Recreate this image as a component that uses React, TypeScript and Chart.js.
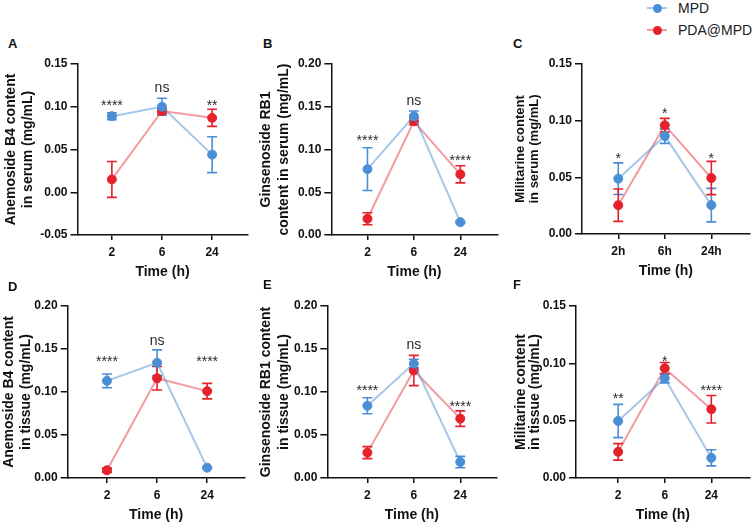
import React, { useEffect, useRef } from "react";
import { Chart, registerables } from "chart.js";

Chart.register(...registerables);

const FONT = "'Liberation Sans', Arial, Helvetica, sans-serif";
const BLUE = "#4a8fd6";
const BLUE_LINE = "rgba(74,143,214,0.5)";
const RED = "#e5212b";
const RED_LINE = "rgba(229,33,43,0.45)";

// time points
const hours = ["2", "6", "24"];
const hoursH = ["2h", "6h", "24h"];

// A: Anemoside B4, serum
const aMpd = [0.089, 0.1, 0.044];
const aMpdSd = [0.004, 0.01, 0.021];
const aPda = [0.015, 0.095, 0.087];
const aPdaSd = [0.021, 0.003, 0.01];
const aSig = ["****", "ns", "**"];
const aSigY = [0.104, 0.122, 0.104];
const aTicks = [-0.05, 0, 0.05, 0.1, 0.15];

// B: Ginsenoside RB1, serum
const bMpd = [0.077, 0.139, 0.015];
const bMpdSd = [0.025, 0.006, 0.001];
const bPda = [0.019, 0.133, 0.071];
const bPdaSd = [0.007, 0.004, 0.01];
const bSig = ["****", "ns", "****"];
const bSigY = [0.113, 0.157, 0.09];
const bTicks = [0, 0.05, 0.1, 0.15, 0.2];

// C: Militarine, serum
const cMpd = [0.0488, 0.0864, 0.0255];
const cMpdSd = [0.014, 0.0064, 0.0148];
const cPda = [0.0254, 0.096, 0.0494];
const cPdaSd = [0.0143, 0.006, 0.0147];
const cSig = ["*", "*", "*"];
const cSigY = [0.069, 0.108, 0.069];
const cTicks = [0, 0.05, 0.1, 0.15];

// D: Anemoside B4, tissue
const dMpd = [0.113, 0.134, 0.012];
const dMpdSd = [0.008, 0.015, 0.001];
const dPda = [0.009, 0.116, 0.101];
const dPdaSd = [0.0025, 0.0137, 0.009];
const dSig = ["****", "ns", "****"];
const dSigY = [0.138, 0.159, 0.138];
const dTicks = [0, 0.05, 0.1, 0.15, 0.2];

// E: Ginsenoside RB1, tissue
const eMpd = [0.084, 0.133, 0.0186];
const eMpdSd = [0.0093, 0.005, 0.0066];
const ePda = [0.0295, 0.125, 0.069];
const ePdaSd = [0.007, 0.0176, 0.009];
const eSig = ["****", "ns", "****"];
const eSigY = [0.104, 0.155, 0.086];
const eTicks = [0, 0.05, 0.1, 0.15, 0.2];

// F: Militarine, tissue
const fMpd = [0.0497, 0.087, 0.0176];
const fMpdSd = [0.0145, 0.004, 0.007];
const fPda = [0.0228, 0.0957, 0.06];
const fPdaSd = [0.0072, 0.005, 0.012];
const fSig = ["**", "*", "****"];
const fSigY = [0.071, 0.104, 0.078];
const fTicks = [0, 0.05, 0.1, 0.15];

type Panel = {
  letter: string;
  cats: string[];
  mpd: number[];
  mpdSd: number[];
  pda: number[];
  pdaSd: number[];
  sig: string[];
  sigY: number[];
  ticks: number[];
  title: string[];
  // plot box on the page
  left: number;
  right: number;
  top: number;
  bottom: number;
  xMin: number;
  xMax: number;
  titleX: number;
  titleGap: number;
  titleSize: number;
  letterX: number;
  letterY: number;
};

const panels: Panel[] = [
  {
    letter: "A", cats: hours, mpd: aMpd, mpdSd: aMpdSd, pda: aPda, pdaSd: aPdaSd, sig: aSig, sigY: aSigY, ticks: aTicks,
    title: ["Anemoside B4 content", "in serum (mg/mL)"],
    left: 77, right: 250, top: 64, bottom: 235, xMin: -0.686, xMax: 2.706,
    titleX: 10.5, titleGap: 17, titleSize: 14, letterX: 8, letterY: 44,
  },
  {
    letter: "B", cats: hours, mpd: bMpd, mpdSd: bMpdSd, pda: bPda, pdaSd: bPdaSd, sig: bSig, sigY: bSigY, ticks: bTicks,
    title: ["Ginsenoside RB1", "content in serum (mg/mL)"],
    left: 331, right: 501, top: 64, bottom: 235, xMin: -0.779, xMax: 2.8,
    titleX: 265.7, titleGap: 18.6, titleSize: 14, letterX: 263, letterY: 44,
  },
  {
    letter: "C", cats: hoursH, mpd: cMpd, mpdSd: cMpdSd, pda: cPda, pdaSd: cPdaSd, sig: cSig, sigY: cSigY, ticks: cTicks,
    title: ["Militarine content", "in serum (mg/mL)"],
    left: 582, right: 753, top: 64, bottom: 234, xMin: -0.779, xMax: 2.82,
    titleX: 520, titleGap: 14, titleSize: 13, letterX: 513, letterY: 44,
  },
  {
    letter: "D", cats: hours, mpd: dMpd, mpdSd: dMpdSd, pda: dPda, pdaSd: dPdaSd, sig: dSig, sigY: dSigY, ticks: dTicks,
    title: ["Anemoside B4 content", "in tissue (mg/mL)"],
    left: 68, right: 248, top: 306, bottom: 478, xMin: -0.784, xMax: 2.745,
    titleX: 9.3, titleGap: 17, titleSize: 14, letterX: 8, letterY: 287,
  },
  {
    letter: "E", cats: hours, mpd: eMpd, mpdSd: eMpdSd, pda: ePda, pdaSd: ePdaSd, sig: eSig, sigY: eSigY, ticks: eTicks,
    title: ["Ginsenoside RB1 content", "in tissue (mg/mL)"],
    left: 327, right: 500, top: 306, bottom: 478, xMin: -0.863, xMax: 2.78,
    titleX: 265.7, titleGap: 18.6, titleSize: 14, letterX: 263, letterY: 285,
  },
  {
    letter: "F", cats: hours, mpd: fMpd, mpdSd: fMpdSd, pda: fPda, pdaSd: fPdaSd, sig: fSig, sigY: fSigY, ticks: fTicks,
    title: ["Militarine content", "in tissue (mg/mL)"],
    left: 576, right: 753, top: 306, bottom: 478, xMin: -0.905, xMax: 2.82,
    titleX: 521, titleGap: 14, titleSize: 14, letterX: 513, letterY: 285,
  },
];

const PAD_TOP = 12;
const PAD_RIGHT = 2;
const X_AXIS_H = 46;
const TITLE_MARGIN = 10;

// vertical SD bars with caps, drawn beneath the lines and markers
const errorBars = {
  id: "errorBars",
  beforeDatasetsDraw(chart: any) {
    const ctx = chart.ctx;
    const ys = chart.scales.y;
    chart.data.datasets.forEach((ds: any, di: number) => {
      const meta = chart.getDatasetMeta(di);
      meta.data.forEach((pt: any, i: number) => {
        const v = ds.data[i].y;
        const e = ds.err[i];
        const top = ys.getPixelForValue(v + e);
        const bot = ys.getPixelForValue(v - e);
        const x = pt.x;
        ctx.save();
        ctx.strokeStyle = ds.errColor;
        ctx.lineWidth = 1.6;
        ctx.beginPath();
        ctx.moveTo(x, top);
        ctx.lineTo(x, bot);
        ctx.moveTo(x - 5, top);
        ctx.lineTo(x + 5, top);
        ctx.moveTo(x - 5, bot);
        ctx.lineTo(x + 5, bot);
        ctx.stroke();
        ctx.restore();
      });
    });
  },
};

// significance marks above each time point
const sigMarks = {
  id: "sigMarks",
  afterDatasetsDraw(chart: any) {
    const opts = chart.options.plugins.sigMarks;
    if (!opts) return;
    const ctx = chart.ctx;
    const xs = chart.scales.x;
    const ys = chart.scales.y;
    ctx.save();
    ctx.font = `14px ${FONT}`;
    ctx.fillStyle = "#2a2a2a";
    ctx.textAlign = "center";
    ctx.textBaseline = "middle";
    opts.labels.forEach((t: string, i: number) => {
      const x = xs.getPixelForValue(i);
      let y = ys.getPixelForValue(opts.ys[i]);
      if (t.startsWith("*")) y += 3;
      ctx.fillText(t, x, y);
    });
    ctx.restore();
  },
};

function PanelChart({ p }: { p: Panel }) {
  const ref = useRef<HTMLCanvasElement | null>(null);
  const x0 = p.titleX - TITLE_MARGIN;
  const y0 = p.top - PAD_TOP;
  const w = Math.round(p.right + PAD_RIGHT - x0);
  const h = Math.round(p.bottom + X_AXIS_H - y0);

  useEffect(() => {
    if (!ref.current) return;
    const yWidth = p.left - x0;
    const chart = new Chart(ref.current, {
      type: "line",
      data: {
        datasets: [
          {
            label: "MPD",
            data: p.mpd.map((v, i) => ({ x: i, y: v })),
            borderColor: BLUE_LINE,
            backgroundColor: BLUE,
            pointBackgroundColor: BLUE,
            pointBorderColor: BLUE,
            pointRadius: 4.5,
            pointBorderWidth: 1,
            borderWidth: 2,
            order: 1,
            err: p.mpdSd,
            errColor: BLUE,
          } as any,
          {
            label: "PDA@MPD",
            data: p.pda.map((v, i) => ({ x: i, y: v })),
            borderColor: RED_LINE,
            backgroundColor: RED,
            pointBackgroundColor: RED,
            pointBorderColor: RED,
            pointRadius: 4.5,
            pointBorderWidth: 1,
            borderWidth: 2,
            order: 2,
            err: p.pdaSd,
            errColor: RED,
          } as any,
        ],
      },
      options: {
        responsive: false,
        animation: false,
        devicePixelRatio: 1,
        layout: { padding: { left: 0, top: PAD_TOP, right: PAD_RIGHT, bottom: 0 } },
        plugins: {
          legend: { display: false },
          tooltip: { enabled: false },
          sigMarks: { labels: p.sig, ys: p.sigY },
        } as any,
        scales: {
          x: {
            type: "linear",
            min: p.xMin,
            max: p.xMax,
            afterBuildTicks: (s: any) => {
              s.ticks = p.cats.map((_, i) => ({ value: i }));
            },
            afterFit: (s: any) => {
              s.height = X_AXIS_H;
            },
            ticks: {
              callback: (v: any) => p.cats[Math.round(Number(v))],
              color: "#111",
              font: { family: FONT, size: 12, weight: "bold" },
              padding: 5,
              maxRotation: 0,
            },
            grid: { drawOnChartArea: false, drawTicks: true, tickLength: 5, color: "#111", lineWidth: 1.5 },
            border: { display: true, color: "#111", width: 1.5 },
            title: {
              display: true,
              text: "Time (h)",
              color: "#111",
              font: { family: FONT, size: 14, weight: "bold" },
              padding: { top: 0, bottom: 0 },
            },
          },
          y: {
            type: "linear",
            min: p.ticks[0],
            max: p.ticks[p.ticks.length - 1],
            afterBuildTicks: (s: any) => {
              s.ticks = p.ticks.map((v) => ({ value: v }));
            },
            afterFit: (s: any) => {
              s.width = yWidth;
            },
            ticks: {
              callback: (v: any) => Number(v).toFixed(2),
              color: "#111",
              font: { family: FONT, size: 12, weight: "bold" },
              padding: 3,
            },
            grid: { drawOnChartArea: false, drawTicks: true, tickLength: 7, color: "#111", lineWidth: 1.5 },
            border: { display: true, color: "#111", width: 1.5 },
            title: {
              display: true,
              text: p.title,
              color: "#111",
              font: { family: FONT, size: p.titleSize, weight: "bold", lineHeight: p.titleGap / p.titleSize },
              padding: { top: TITLE_MARGIN - p.titleGap / 2, bottom: 0 },
            },
          },
        },
      },
      plugins: [errorBars, sigMarks],
    } as any);
    return () => chart.destroy();
  }, []);

  return (
    <>
      <canvas
        ref={ref}
        width={w}
        height={h}
        style={{ position: "absolute", left: x0, top: y0, width: w, height: h }}
      />
      <div
        style={{
          position: "absolute",
          left: p.letterX,
          top: p.letterY - 8,
          font: `bold 13px ${FONT}`,
          lineHeight: "16px",
          color: "#111",
        }}
      >
        {p.letter}
      </div>
    </>
  );
}

function LegendItem({ label, line, dot, y }: { label: string; line: string; dot: string; y: number }) {
  return (
    <>
      <div style={{ position: "absolute", left: 647, top: y - 1, width: 20, height: 2, background: line }} />
      <div
        style={{
          position: "absolute",
          left: 652.5,
          top: y - 4.5,
          width: 9,
          height: 9,
          borderRadius: "50%",
          background: dot,
        }}
      />
      <div
        style={{
          position: "absolute",
          left: 678,
          top: y - 9,
          font: `14px ${FONT}`,
          lineHeight: "18px",
          color: "#222",
          whiteSpace: "nowrap",
        }}
      >
        {label}
      </div>
    </>
  );
}

export default function App() {
  return (
    <div
      style={{
        position: "absolute",
        left: 0,
        top: 0,
        width: 755,
        height: 525,
        overflow: "hidden",
        background: "#fff",
      }}
    >
      {panels.map((p) => (
        <PanelChart key={p.letter} p={p} />
      ))}
      <LegendItem label="MPD" line={BLUE_LINE} dot={BLUE} y={8} />
      <LegendItem label="PDA@MPD" line={RED_LINE} dot={RED} y={30} />
    </div>
  );
}
